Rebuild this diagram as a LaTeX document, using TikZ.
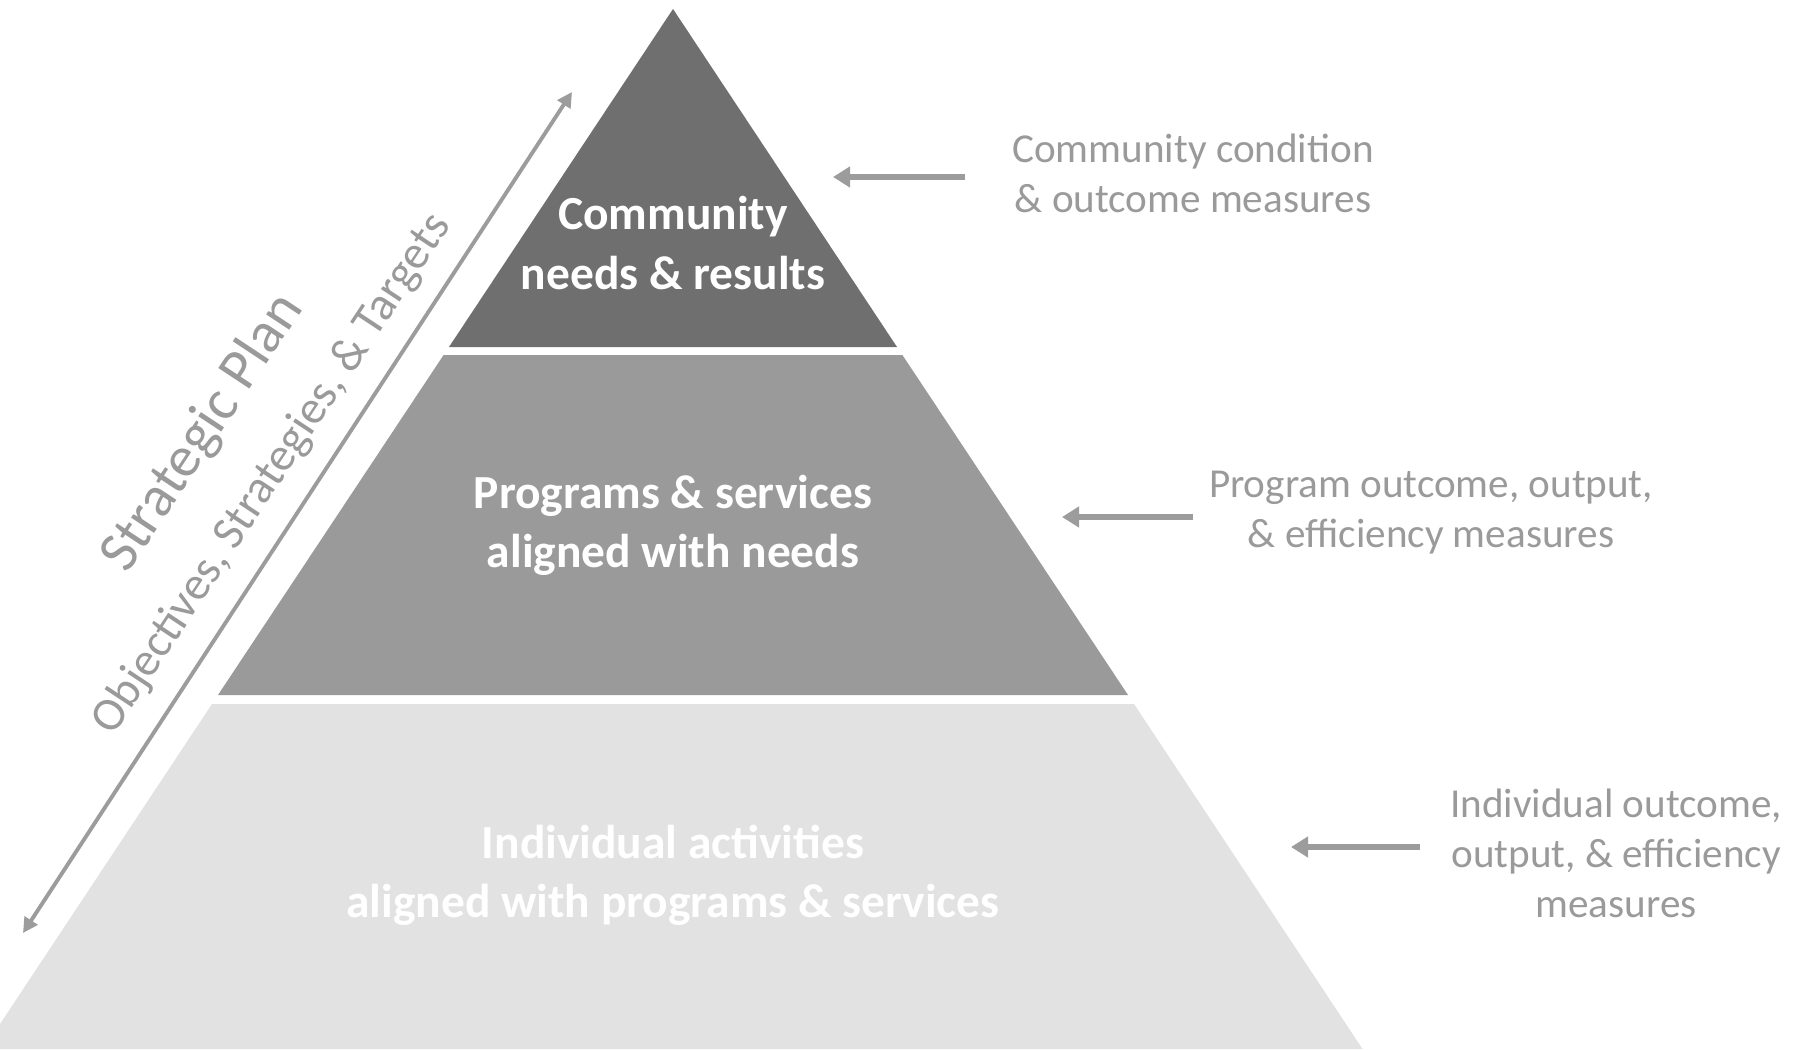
\documentclass[tikz,border=0pt]{standalone}
\usepackage{fontspec}
\setmainfont{Carlito}
\usetikzlibrary{arrows.meta}
\definecolor{bandtop}{HTML}{6F6F6F}
\definecolor{bandmid}{HTML}{9A9A9A}
\definecolor{bandlow}{HTML}{E2E2E2}
\definecolor{arrowgray}{HTML}{9C9C9C}
\definecolor{notegray}{HTML}{9A9A9A}
\tikzset{
  band/.style={draw=none},
  bandtext/.style={text=white, align=center, font=\bfseries\fontsize{13.5}{16.8}\selectfont},
  notetext/.style={text=notegray, align=center, font=\fontsize{11.7}{14.2}\selectfont},
  feed/.style={draw=arrowgray, line width=1.7pt, -{Triangle[length=0.17cm,width=0.2cm]}},
  planarrow/.style={draw=arrowgray, line width=1.1pt, {Triangle[length=0.15cm,width=0.15cm]}-{Triangle[length=0.15cm,width=0.15cm]}},
  plantext/.style={text=notegray, rotate=56.5}
}
\begin{document}
\begin{tikzpicture}[x=0.01cm,y=-0.01cm]
\useasboundingbox (0,0) rectangle (1795,1049);
\fill[white] (0,0) rectangle (1795,1049);

% pyramid bands
\fill[band, bandtop] (673,9) -- (897,347) -- (449,347) -- cycle;
\fill[band, bandmid] (443.6,355) -- (902.4,355) -- (1128,695) -- (218,695) -- cycle;
\fill[band, bandlow] (212,704) -- (1134,704) -- (1362.5,1049) -- (-16.5,1049) -- cycle;

% band labels
\node[bandtext] (top) at (673,243) {Community\\needs \& results};
\node[bandtext] (mid) at (673,525) {Programs \& services\\aligned with needs};
\node[bandtext] (low) at (673,875) {Individual activities\\aligned with programs \& services};

% measures on the right
\node[notetext] (m1) at (1193,173) {Community condition\\\& outcome measures};
\node[notetext] (m2) at (1431,513) {Program outcome, output,\\\& efficiency measures};
\node[notetext] (m3) at (1616,853) {Individual outcome,\\output, \& efficiency\\measures};

\coordinate (f1s) at (965,177);  \coordinate (f1e) at (833,177);
\coordinate (f2s) at (1193,517); \coordinate (f2e) at (1062,517);
\coordinate (f3s) at (1420,847); \coordinate (f3e) at (1291,847);
\draw[feed] (f1s) -- (f1e);
\draw[feed] (f2s) -- (f2e);
\draw[feed] (f3s) -- (f3e);

% strategic plan axis
\coordinate (pb) at (23,933);
\coordinate (pt) at (572,92);
\draw[planarrow] (pb) -- (pt);
\node[plantext, font=\fontsize{16.5}{20}\selectfont] (sp) at (203,433) {Strategic Plan};
\node[plantext, font=\fontsize{13.4}{16}\selectfont] (ost) at (272,474) {Objectives, Strategies, \& Targets};
\end{tikzpicture}
\end{document}
